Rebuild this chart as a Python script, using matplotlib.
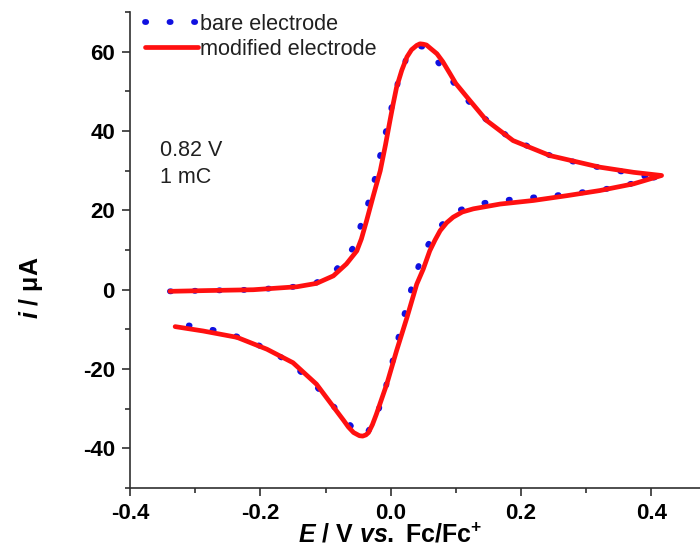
import matplotlib.pyplot as plt
from matplotlib.ticker import MultipleLocator

plt.rcParams['font.family'] = ['Liberation Sans', 'DejaVu Sans']
plt.rcParams['mathtext.fontset'] = 'custom'
plt.rcParams['mathtext.rm'] = 'Liberation Sans:bold'
plt.rcParams['mathtext.it'] = 'Liberation Sans:bold:italic'
plt.rcParams['mathtext.bf'] = 'Liberation Sans:bold'

# bare electrode (forward scan then reverse scan)
bare_E = [-0.339, -0.28, -0.211, -0.144, -0.114, -0.083, -0.057, -0.045, -0.033, -0.023,
          -0.015, -0.006, 0.002, 0.012, 0.025, 0.038, 0.053, 0.083, 0.109, 0.142,
          0.178, 0.214, 0.252, 0.291, 0.324, 0.362, 0.396, 0.416,
          0.36, 0.324, 0.286, 0.250, 0.214, 0.177, 0.140, 0.104, 0.071, 0.051,
          0.037, 0.027, 0.017, 0.008, -0.001, -0.011, -0.023, -0.035, -0.045, -0.052,
          -0.086, -0.115, -0.152, -0.187, -0.224, -0.260, -0.296, -0.31]
bare_i = [-0.4, -0.2, 0.0, 0.8, 1.8, 5.2, 10.7, 16.7, 22.6, 28.8,
          34.7, 40.8, 46.5, 52.8, 58.7, 61.5, 61.2, 55.3, 49.4, 43.5,
          38.9, 35.9, 33.4, 31.9, 30.7, 29.6, 28.4, 28.8,
          26.3, 25.2, 24.4, 23.7, 23.2, 22.6, 21.8, 20.0, 15.3, 9.4,
          3.5, -2.6, -8.7, -14.6, -20.6, -26.5, -32.5, -35.8, -36.8, -36.0,
          -29.7, -24.2, -18.6, -15.2, -12.4, -10.6, -9.3, -9.0]

# modified electrode
mod_E = [-0.339, -0.28, -0.211, -0.144, -0.114, -0.088, -0.068, -0.052, -0.045, -0.037,
         -0.027, -0.016, -0.008, -0.001, 0.004, 0.009, 0.017, 0.025, 0.032, 0.040,
         0.045, 0.050, 0.055, 0.060, 0.071, 0.080, 0.091, 0.100,
         0.117, 0.147, 0.188, 0.245, 0.321, 0.373, 0.416,
         0.373, 0.321, 0.270, 0.219, 0.168, 0.127, 0.110, 0.096, 0.086, 0.076,
         0.068, 0.060, 0.050, 0.040, 0.025, 0.009, -0.006, -0.022, -0.028, -0.034,
         -0.038, -0.043, -0.048, -0.057, -0.065, -0.072, -0.083,
         -0.114, -0.150, -0.190, -0.236, -0.288, -0.331]
mod_i = [-0.4, -0.2, 0.0, 0.75, 1.6, 3.5, 6.5, 9.8, 12.8, 17.4,
         23.5, 30.0, 36.5, 42.7, 47.0, 51.0, 55.3, 58.7, 60.5, 61.6,
         62.0, 61.9, 61.7, 61.0, 59.5, 57.5, 54.5, 52.0,
         48.6, 42.7, 37.6, 33.8, 30.9, 29.6, 28.8,
         26.7, 25.0, 23.7, 22.5, 21.6, 20.4, 19.6, 18.3, 16.9, 14.9,
         12.5, 9.8, 5.2, 1.4, -7.0, -15.4, -23.8, -31.4, -34.0, -36.0,
         -36.6, -36.9, -36.8, -36.0, -34.6, -33.0, -30.6,
         -23.8, -18.4, -15.0, -12.0, -10.4, -9.3]

fig = plt.figure(figsize=(7, 5.49), dpi=100)
ax = fig.add_axes([0.186, 0.111, 0.814, 0.867])

ax.plot(bare_E, bare_i, color='#1010e0', lw=4.2, linestyle=(0, (0.2, 4.0)),
        dash_capstyle='round', label='bare electrode')
ax.plot(mod_E, mod_i, color='#ff1010', lw=3.4, solid_capstyle='round',
        solid_joinstyle='round', label='modified electrode')

ax.set_xlim(-0.4, 0.475)
ax.set_ylim(-50, 70)
ax.xaxis.set_minor_locator(MultipleLocator(0.1))
ax.yaxis.set_minor_locator(MultipleLocator(10))
ax.set_xticks([-0.4, -0.2, 0.0, 0.2, 0.4])
ax.set_xticklabels(['-0.4', '-0.2', '0.0', '0.2', '0.4'])
ax.set_yticks([-40, -20, 0, 20, 40, 60])
ax.set_yticklabels(['-40', '-20', '0', '20', '40', '60'])

for s in ['top', 'right']:
    ax.spines[s].set_visible(False)
for s in ['left', 'bottom']:
    ax.spines[s].set_linewidth(1.2)
    ax.spines[s].set_color('#303030')
ax.tick_params(which='major', length=6, width=1.2, color='#303030',
               labelsize=16, pad=5)
ax.tick_params(which='minor', length=3.5, width=1.2, color='#303030')
for lab in ax.get_xticklabels() + ax.get_yticklabels():
    lab.set_fontweight('bold')

ax.set_xlabel(r'$E$ / V $vs.$ Fc/Fc$^{+}$', fontsize=18, fontweight='bold')
ax.xaxis.set_label_coords(0.456, -0.074)
ax.set_ylabel(r'$i$ / μA', fontsize=18, fontweight='bold')
ax.yaxis.set_label_coords(-0.15, 0.42)

ax.text(-0.355, 35.1, '0.82 V', fontsize=15.5, va='center', color='#202020')
ax.text(-0.355, 28.3, '1 mC', fontsize=15.5, va='center', color='#202020')

leg = ax.legend(loc='upper left', bbox_to_anchor=(0.01, 1.015), frameon=False,
                fontsize=15.6, handlelength=2.45, handletextpad=0.12,
                labelspacing=0.2, borderaxespad=0)
for t in leg.get_texts():
    t.set_color('#202020')

fig.savefig('out.png', dpi=100)
